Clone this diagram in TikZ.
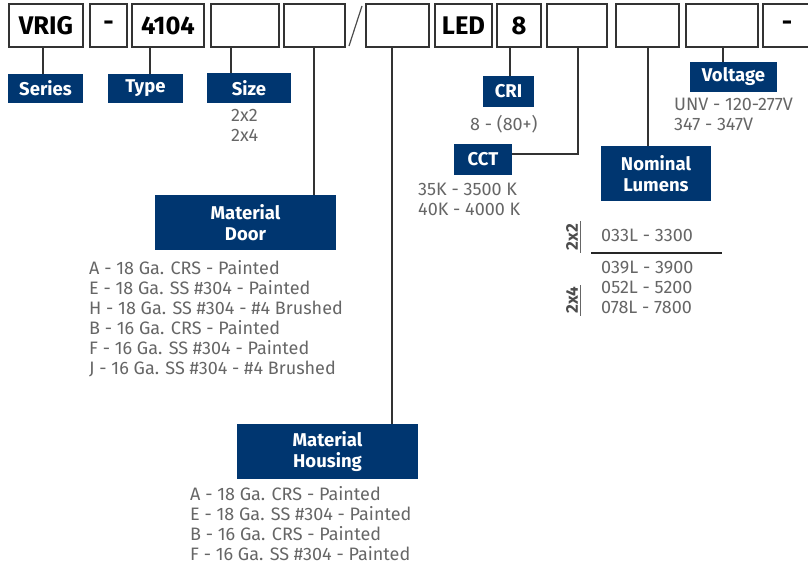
\documentclass[tikz,border=0pt]{standalone}
\usepackage{fontspec}
\setmainfont{Fira Sans}
\usetikzlibrary{positioning}
\definecolor{navy}{RGB}{0,54,112}
\definecolor{graytext}{RGB}{102,102,102}
\tikzset{
	codebox/.style={draw=black!80, line width=1.6pt, minimum height=43pt, inner sep=0pt, font=\fontsize{25.5}{28}\selectfont\bfseries},
	catbox/.style={fill=navy, text=white, inner sep=0pt, align=center, font=\fontsize{18.5}{21}\selectfont\bfseries},
	listtext/.style={text=graytext, inner sep=0pt, align=left, anchor=north west, font=\fontsize{18}{20}\selectfont},
	sizetag/.style={rotate=90, text=black!70, inner sep=0pt, font=\fontsize{17}{20}\selectfont\bfseries},
	link/.style={draw=black!80, line width=1.5pt},
}

\begin{document}
\begin{tikzpicture}[x=1pt, y=-1pt]
		\useasboundingbox (0,0) rectangle (808,565);
		%%%%% CODE BOXES %%%%%
		\node[codebox, minimum width=74pt] (cSeries) at (46,25.5) {VRIG};
		\node[codebox, minimum width=37pt] (cSep) at (108.5,25.5) {\raisebox{-6pt}{-}};
		\node[codebox, minimum width=72pt] (cType) at (168,25.5) {4104};
		\node[codebox, minimum width=68pt] (cSize) at (245,25.5) {};
		\node[codebox, minimum width=61pt] (cDoor) at (314.5,25.5) {};
		\draw[line width=1.2pt, black!70] (349,46) -- (362,6);
		\node[codebox, minimum width=63pt] (cHousing) at (397.5,25.5) {};
		\node[codebox, minimum width=57pt] (cLed) at (463.5,25.5) {LED};
		\node[codebox, minimum width=44pt] (cCri) at (519,25.5) {8};
		\node[codebox, minimum width=60pt] (cCct) at (577,25.5) {};
		\node[codebox, minimum width=63pt] (cLumens) at (647.5,25.5) {};
		\node[codebox, minimum width=72pt] (cVolt) at (722,25.5) {};
		\node[codebox, minimum width=48pt] (cEnd) at (787,25.5) {\raisebox{-6pt}{-}};
		
		%%%%% CATEGORIES %%%%%
		\node[catbox, minimum width=75pt, minimum height=29pt] (series) at (45.5,88.5) {Series};
		\node[catbox, minimum width=75pt, minimum height=29pt] (type) at (145.5,88.5) {Type};
		\node[catbox, minimum width=84pt, minimum height=30pt] (size) at (249,88) {Size};
		\node[catbox, minimum width=181pt, minimum height=55pt] (door) at (245.5,222.5) {Material\\Door};
		\node[catbox, minimum width=181pt, minimum height=55pt] (housing) at (327.5,451.5) {Material\\Housing};
		\node[catbox, minimum width=51pt, minimum height=31pt] (cri) at (508.5,91.5) {CRI};
		\node[catbox, minimum width=58pt, minimum height=31pt] (cct) at (483,159.5) {CCT};
		\node[catbox, minimum width=110pt, minimum height=55pt] (lumens) at (656,173.5) {Nominal\\Lumens};
		\node[catbox, minimum width=87pt, minimum height=30pt] (voltage) at (733.5,77) {Voltage};
		
		%%%%% LINKS %%%%%
		\draw[link] ([xshift=-3]cSeries.south) -- ([xshift=-2.5]series.north);
		\draw[link] ([xshift=-18]cType.south) -- ([xshift=4.5]type.north);
		\draw[link] ([xshift=-14]cSize.south) -- ([xshift=-18]size.north);
		\draw[link] ([xshift=-0.5]cDoor.south) -- ([xshift=68.5]door.north);
		\draw[link] ([xshift=-5.5]cHousing.south) -- ([xshift=64.5]housing.north);
		\draw[link] ([xshift=-9]cCri.south) -- ([xshift=1.5]cri.north);
		\draw[link] ([xshift=1]cCct.south) |- ([yshift=5.5]cct.east);
		\draw[link] ([xshift=0.5]cLumens.south) -- ([xshift=-8]lumens.north);
		\draw[link] ([xshift=1]cVolt.south) -- ([xshift=-10.5]voltage.north);
		
		%%%%% OPTIONS %%%%%
		\node[listtext] (sizeList) at (231,109) {2x2\\2x4};
		\node[listtext] (criList) at (470,115) {8 - (80+)};
		\node[listtext] (cctList) at (418,183) {35K - 3500 K\\40K - 4000 K};
		\node[listtext] (voltList) at (674,98) {UNV - 120-277V\\347 - 347V};
		\node[listtext] (doorList) at (89,260) {A - 18 Ga. CRS - Painted\\E - 18 Ga. SS \#304 - Painted\\H - 18 Ga. SS \#304 - \#4 Brushed\\B - 16 Ga. CRS - Painted\\F - 16 Ga. SS \#304 - Painted\\J - 16 Ga. SS \#304 - \#4 Brushed};
		\node[listtext] (housingList) at (190,486) {A - 18 Ga. CRS - Painted\\E - 18 Ga. SS \#304 - Painted\\B - 16 Ga. CRS - Painted\\F - 16 Ga. SS \#304 - Painted};
		
		%%%%% LUMENS TABLE %%%%%
		\node[sizetag] (tag22) at (572,237) {2x2};
		\draw[line width=1pt, graytext] (580,221) -- (580,253);
		\node[listtext] (lum22) at (601,229) {033L - 3300};
		\draw[line width=1.5pt, black!85] (591,253) -- (722,253);
		\node[sizetag] (tag24) at (572,300) {2x4};
		\draw[line width=1pt, graytext] (580,285) -- (580,316);
		\node[listtext] (lum24) at (601,261) {039L - 3900\\052L - 5200\\078L - 7800};
	\end{tikzpicture}
\end{document}
